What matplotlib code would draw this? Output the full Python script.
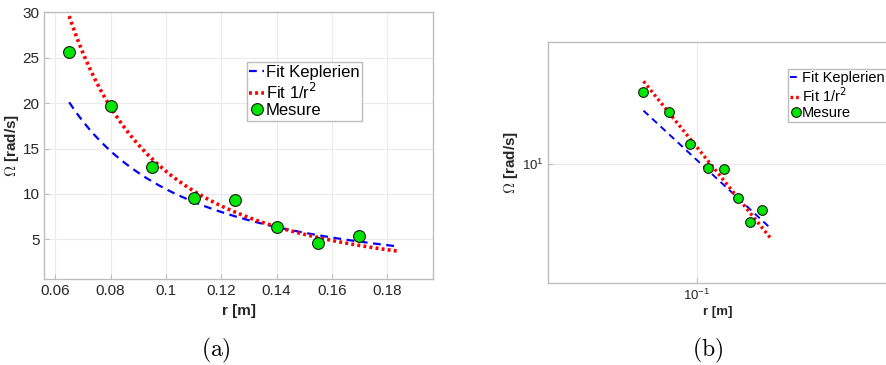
import numpy as np
import matplotlib.pyplot as plt

# measured points
r = [0.065, 0.08, 0.095, 0.11, 0.125, 0.14, 0.155, 0.17]
omega = [25.6, 19.7, 13.0, 9.5, 9.35, 6.4, 4.65, 5.4]

# fit coefficients
kep_coef = 0.333    # omega = A * r^-1.5
inv2_coef = 0.125   # omega = B * r^-2
r_fit_min, r_fit_max = 0.065, 0.184

xticks_a = [0.06, 0.08, 0.1, 0.12, 0.14, 0.16, 0.18]
xticklabels_a = ['0.06', '0.08', '0.1', '0.12', '0.14', '0.16', '0.18']
yticks_a = [5, 10, 15, 20, 25, 30]

plt.rcParams['font.family'] = ['Liberation Sans', 'DejaVu Sans']

rf = np.linspace(r_fit_min, r_fit_max, 200)
kep = kep_coef * rf ** -1.5
inv2 = inv2_coef * rf ** -2

W, H = 886, 365
fig = plt.figure(figsize=(W / 100, H / 100), dpi=100)

spine_c = '#bdbdbd'
grid_c = '#ebebeb'
txt_c = '#262626'


def style(ax):
    for s in ax.spines.values():
        s.set_color(spine_c)
        s.set_linewidth(1.0)
    ax.grid(True, which='major', color=grid_c, lw=0.8)
    ax.set_axisbelow(True)
    ax.tick_params(which='both', direction='in', color=spine_c, labelcolor=txt_c)


def draw(ax, ms, lw_k, lw_r):
    ax.plot(rf, kep, color='#0000ff', ls=(0, (3.5, 2.5)), lw=lw_k, label='Fit Keplerien')
    ax.plot(rf, inv2, color='#ff0000', ls=(0, (0.8, 0.9)), lw=lw_r, label='Fit 1/r$^2$')
    ax.plot(r, omega, 'o', ms=ms, mfc='#00e600', mec='#1a1a1a', mew=0.8, label='Mesure')


# (a) linear
ax1 = fig.add_axes([44.3 / W, 1 - 279.3 / H, (433 - 44.3) / W, (279.3 - 12.3) / H])
draw(ax1, 8.5, 1.6, 2.6)
ax1.set_xlim(0.056, 0.1966)
ax1.set_ylim(0.6, 30)
ax1.set_xticks(xticks_a)
ax1.set_xticklabels(xticklabels_a)
ax1.set_yticks(yticks_a)
ax1.tick_params(labelsize=11)
style(ax1)
ax1.set_xlabel('r [m]', fontsize=11, fontweight='bold', color=txt_c, labelpad=4)
ax1.set_ylabel(r'$\Omega$ [rad/s]', fontsize=11, fontweight='bold', color=txt_c,
               math_fontfamily='cm', labelpad=1)
leg1 = ax1.legend(loc='upper left', bbox_to_anchor=(246.7 / W, 1 - 62.3 / H),
                  bbox_transform=fig.transFigure, fontsize=12, handlelength=0.9,
                  handletextpad=0.1, borderpad=0.15, labelspacing=0.1,
                  borderaxespad=0, fancybox=False, framealpha=1, edgecolor=spine_c)
leg1.get_frame().set_linewidth(1.0)

# (b) log-log
ax2 = fig.add_axes([548.3 / W, 1 - 283.3 / H, (887 - 548.3) / W, (283.3 - 42.3) / H])
draw(ax2, 7, 1.4, 2.4)
ax2.set_xscale('log')
ax2.set_yscale('log')
ax2.set_xlim(0.03, 0.47)
ax2.set_ylim(2.07, 49.4)
ax2.xaxis.set_minor_locator(plt.NullLocator())
ax2.yaxis.set_minor_locator(plt.NullLocator())
ax2.tick_params(labelsize=9.5)
style(ax2)
ax2.set_xlabel('r [m]', fontsize=9.5, fontweight='bold', color=txt_c, labelpad=2)
ax2.set_ylabel(r'$\Omega$ [rad/s]', fontsize=11, fontweight='bold', color=txt_c,
               math_fontfamily='cm', labelpad=1)
leg2 = ax2.legend(loc='upper left', bbox_to_anchor=(788.3 / W, 1 - 69.3 / H),
                  bbox_transform=fig.transFigure, fontsize=10.5, handlelength=0.7,
                  handletextpad=0.1, borderpad=0.15, labelspacing=0.05,
                  borderaxespad=0, fancybox=False, framealpha=1, edgecolor=spine_c)
leg2.get_frame().set_linewidth(1.0)

# subfigure captions
fig.text(216 / W, 1 - 350 / H, r'$\mathrm{(a)}$', fontsize=17, ha='center', va='center',
         math_fontfamily='cm')
fig.text(708 / W, 1 - 350 / H, r'$\mathrm{(b)}$', fontsize=17, ha='center', va='center',
         math_fontfamily='cm')

fig.savefig('out.png', dpi=100)
